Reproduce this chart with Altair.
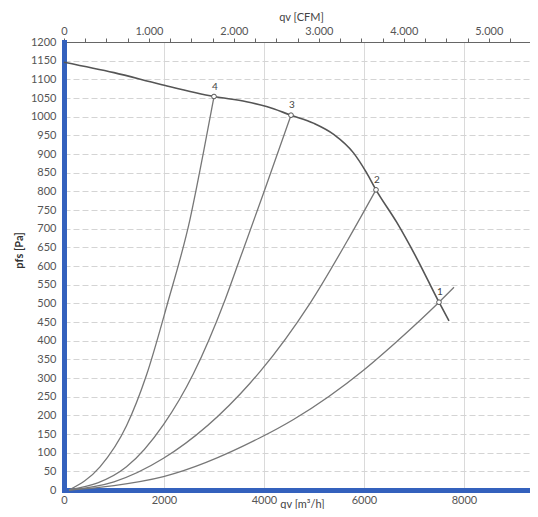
import altair as alt
import pandas as pd

# ---- data ----
# Fan curve: qv [m³/h] vs pfs [Pa]
fan_qv = [0, 1000, 1920, 3000, 3650, 4050, 4540, 5000, 5400, 5790, 6050, 6240, 6650, 7050, 7500, 7700]
fan_p = [1146, 1118, 1087, 1054, 1040, 1027, 1004, 982, 952, 903, 850, 804, 718, 622, 503, 453]

# System curves
sys1_qv = [100, 1000, 1990, 3920, 4590, 5990, 6590, 7500, 7800]
sys1_p = [0, 12, 36, 140, 189, 321, 390, 503, 543]
sys2_qv = [100, 1000, 1990, 3720, 3920, 4920, 5720, 6240]
sys2_p = [0, 22, 85, 286, 317, 500, 680, 804]
sys3_qv = [100, 1250, 1990, 2590, 3220, 3520, 3990, 4540]
sys3_p = [0, 62, 175, 312, 509, 620, 795, 1004]
sys4_qv = [100, 720, 1250, 1650, 2060, 2520, 2790, 3000]
sys4_p = [0, 62, 172, 308, 495, 725, 905, 1054]

# Operating points
op_qv = [7500, 6240, 4540, 3000]
op_p = [503, 804, 1004, 1054]
op_label = ["1", "2", "3", "4"]

# Axis ticks
x_ticks = [0, 2000, 4000, 6000, 8000]
y_ticks = list(range(0, 1201, 50))
cfm_ticks = list(range(0, 5501, 250))

X_MAX = 9320
CFM_MAX = X_MAX / 1.699
W, H = 466, 448

FONT = "Lato"
BLUE = "#3461bd"

fan = pd.DataFrame({"qv": fan_qv, "p": fan_p})
rows = []
for name, qs, ps in [("1", sys1_qv, sys1_p), ("2", sys2_qv, sys2_p),
                     ("3", sys3_qv, sys3_p), ("4", sys4_qv, sys4_p)]:
    for q, p in zip(qs, ps):
        rows.append({"curve": name, "qv": q, "p": p})
systems = pd.DataFrame(rows)
ops = pd.DataFrame({"qv": op_qv, "p": op_p, "label": op_label})
cfm = pd.DataFrame({"cfm": cfm_ticks})

xscale = alt.Scale(domain=[0, X_MAX], nice=False)
yscale = alt.Scale(domain=[0, 1200], nice=False)

x_axis = alt.Axis(
    title="qv [m³/h]", values=x_ticks, format="d", orient="bottom",
    grid=True, gridColor="#dadada", gridWidth=1,
    domainColor=BLUE, domainWidth=5, domainCap="square",
    ticks=False, labelPadding=4, labelFontSize=11, labelColor="#555",
    labelFont=FONT, labelFlush=False,
    titleFont=FONT, titleFontSize=11, titleColor="#444", titleFontWeight="normal",
    titleX=238, titleY=14, titleBaseline="middle",
)
y_axis = alt.Axis(
    title="pfs [Pa]", values=y_ticks, format="d",
    grid=True, gridColor="#d4d4d4", gridDash=[6, 3], gridWidth=1,
    domainColor=BLUE, domainWidth=5, domainCap="square",
    ticks=False, labelPadding=8, labelFontSize=11, labelColor="#555",
    labelFont=FONT, labelOverlap=False, labelFlush=False,
    titleFont=FONT, titleFontSize=11, titleColor="#333", titleFontWeight="bold",
    titleX=-45, titleY=208, titleBaseline="middle", titleAngle=270,
)
top_axis = alt.Axis(
    title="qv [CFM]", orient="top", values=cfm_ticks,
    labelExpr="datum.value % 1000 == 0 ? replace(format(datum.value, ','), ',', '.') : ''",
    grid=False, domainColor="#666", domainWidth=1,
    ticks=True, tickSize=4, tickColor="#666", labelPadding=2,
    labelFontSize=11, labelColor="#555", labelFont=FONT, labelFlush=False,
    labelOverlap=False,
    titleFont=FONT, titleFontSize=11, titleColor="#444", titleFontWeight="normal",
    titleX=237, titleY=-25, titleBaseline="middle",
)

fan_line = alt.Chart(fan).mark_line(
    color="#555", strokeWidth=1.6, interpolate="monotone"
).encode(
    x=alt.X("qv:Q", scale=xscale, axis=x_axis),
    y=alt.Y("p:Q", scale=yscale, axis=y_axis),
)

sys_lines = alt.Chart(systems).mark_line(
    color="#777", strokeWidth=1.3, interpolate="monotone"
).encode(
    x=alt.X("qv:Q", scale=xscale, axis=x_axis),
    y=alt.Y("p:Q", scale=yscale, axis=y_axis),
    detail="curve:N",
)

points = alt.Chart(ops).mark_point(
    shape="circle", size=22, filled=True, fill="white", stroke="#555", strokeWidth=1, opacity=1
).encode(
    x=alt.X("qv:Q", scale=xscale, axis=x_axis),
    y=alt.Y("p:Q", scale=yscale, axis=y_axis),
)

labels = alt.Chart(ops).mark_text(
    dy=-10, dx=1, fontSize=10, color="#444", font=FONT
).encode(
    x=alt.X("qv:Q", scale=xscale, axis=x_axis),
    y=alt.Y("p:Q", scale=yscale, axis=y_axis),
    text="label:N",
)

main = alt.layer(sys_lines, fan_line, points, labels)

top = alt.Chart(cfm).mark_rule(opacity=0).encode(
    x=alt.X("cfm:Q", scale=alt.Scale(domain=[0, CFM_MAX], nice=False), axis=top_axis),
)

chart = alt.layer(main, top).resolve_scale(x="independent").properties(
    width=W, height=H,
    autosize=alt.AutoSizeParams(type="none"),
    padding={"left": 56, "top": 34, "right": 0, "bottom": 19},
).configure_view(stroke=None).configure(font=FONT, background="white")

chart.save("out.html", embed_options={"renderer": "svg", "actions": False})
